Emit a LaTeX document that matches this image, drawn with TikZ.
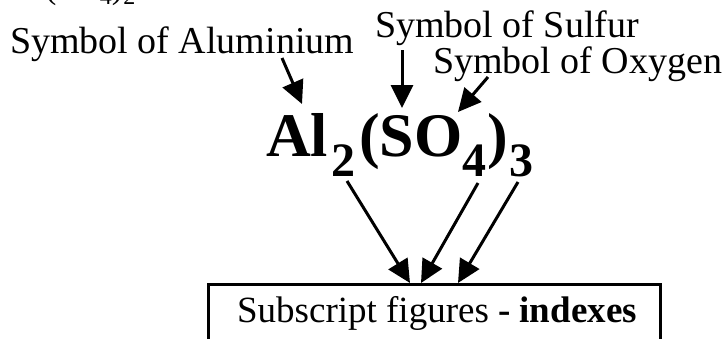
\documentclass[tikz,border=0pt]{standalone}
\usepackage{fontspec}
\setmainfont{Liberation Serif}
\usetikzlibrary{arrows.meta}

% lowered, smaller figure used for chemical subscripts: {drop}{size}{text}
\newcommand\chemsub[3]{\raisebox{#1}{\fontsize{#2}{#2}\selectfont #3}}

\begin{document}
\begin{tikzpicture}[x=1pt,y=-1pt,
  caption/.style={inner sep=0pt, outer sep=0pt, anchor=base west,
    font=\fontsize{38}{38}\selectfont},
  pointer/.style={line width=3pt, -{Triangle[length=23pt,width=22pt]}},
  framebox/.style={draw, line width=3pt, inner sep=0pt, outer sep=0pt,
    anchor=north west, minimum width=452pt, minimum height=120pt},
]
\useasboundingbox (0,0) rectangle (724,338);

% formula continued from above, only its lower edge shows
\node[inner sep=0pt, anchor=base west, font=\fontsize{34}{34}\selectfont]
  (prev) at (45,-2) {(SO\chemsub{-6pt}{24}{4})\chemsub{-6pt}{24}{2}};

% element labels
\node[caption] (al)  at (10,53)  {Symbol of Aluminium};
\node[caption] (s)   at (375,37) {Symbol of Sulfur};
\node[caption] (o)   at (433,73) {Symbol of Oxygen};

% the formula
\node[inner sep=0pt, anchor=base west, font=\bfseries\fontsize{62}{62}\selectfont]
  (formula) at (266,156)
  {Al\kern3pt\chemsub{-20pt}{48}{2}\kern4pt(SO\chemsub{-20pt}{48}{4}\kern1pt)\kern1pt\chemsub{-20pt}{48}{3}};

% box for the subscripts
\node[framebox] (box) at (208.5,284.5) {};
\node[inner sep=0pt, anchor=base, font=\fontsize{37}{37}\selectfont]
  (boxtext) at (437,322) {Subscript figures \textbf{- indexes}};

% arrow end points
\coordinate (alS) at (282,58);   \coordinate (alE) at (302,104);
\coordinate (sS)  at (402,50);   \coordinate (sE)  at (402,108);
\coordinate (oS)  at (488,77);   \coordinate (oE)  at (458,112);
\coordinate (i2S) at (347,181);  \coordinate (i2E) at (410,283);
\coordinate (i4S) at (478,183);  \coordinate (i4E) at (421,283);
\coordinate (i3S) at (518,182);  \coordinate (i3E) at (458,283);

\draw[pointer] (alS) -- (alE);
\draw[pointer] (sS)  -- (sE);
\draw[pointer] (oS)  -- (oE);
\draw[pointer] (i2S) -- (i2E);
\draw[pointer] (i4S) -- (i4E);
\draw[pointer] (i3S) -- (i3E);
\end{tikzpicture}
\end{document}
